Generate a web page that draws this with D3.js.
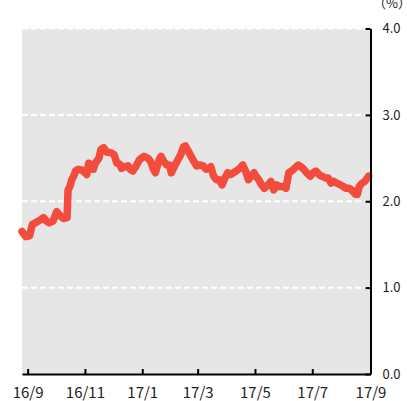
<!doctype html>
<html>
<head>
<meta charset="UTF-8">
<style>
  body { margin: 0; background: #fff; }
  svg text { font-family: "Noto Sans CJK JP", "Noto Sans", sans-serif; fill: #222; }
</style>
</head>
<body>
<svg id="chart" width="407" height="401"></svg>
<script src="https://d3js.org/d3.v7.min.js"></script>
<script>
// data
var dates = [
  "2016-08-26","2016-08-30","2016-09-03","2016-09-06","2016-09-09","2016-09-14","2016-09-18","2016-09-21",
  "2016-09-24","2016-09-28","2016-10-02","2016-10-05","2016-10-09","2016-10-13","2016-10-14","2016-10-16",
  "2016-10-18","2016-10-20","2016-10-22","2016-10-25","2016-10-29","2016-11-01","2016-11-03","2016-11-05",
  "2016-11-08","2016-11-10","2016-11-12","2016-11-16","2016-11-18","2016-11-21","2016-11-24","2016-11-29",
  "2016-12-02","2016-12-05","2016-12-08","2016-12-10","2016-12-13","2016-12-17","2016-12-19","2016-12-22",
  "2016-12-25","2016-12-29","2017-01-03","2017-01-07","2017-01-10","2017-01-13","2017-01-15","2017-01-19",
  "2017-01-21","2017-01-24","2017-01-27","2017-01-30","2017-02-01","2017-02-05","2017-02-08","2017-02-11",
  "2017-02-14","2017-02-16","2017-02-19","2017-02-22","2017-02-25","2017-02-28","2017-03-03","2017-03-07",
  "2017-03-10","2017-03-13","2017-03-15","2017-03-18","2017-03-21","2017-03-24","2017-03-27","2017-03-30",
  "2017-04-02","2017-04-05","2017-04-08","2017-04-11","2017-04-15","2017-04-18","2017-04-21","2017-04-24",
  "2017-04-27","2017-04-30","2017-05-02","2017-05-05","2017-05-08","2017-05-11","2017-05-15","2017-05-18",
  "2017-05-21","2017-05-24","2017-05-27","2017-05-31","2017-06-03","2017-06-06","2017-06-09","2017-06-12",
  "2017-06-16","2017-06-19","2017-06-22","2017-06-25","2017-06-29","2017-07-02","2017-07-05","2017-07-08",
  "2017-07-11","2017-07-15","2017-07-18","2017-07-21","2017-07-24","2017-07-27","2017-07-31","2017-08-03",
  "2017-08-06","2017-08-09","2017-08-12","2017-08-16","2017-08-18","2017-08-20","2017-08-23","2017-08-26",
  "2017-08-30"
];
var values = [
  1.65,1.59,1.60,1.73,1.75,1.78,1.81,1.77,
  1.75,1.77,1.88,1.84,1.80,1.81,2.13,2.17,
  2.25,2.29,2.35,2.37,2.36,2.33,2.31,2.44,
  2.42,2.37,2.44,2.50,2.60,2.62,2.57,2.56,
  2.54,2.44,2.43,2.38,2.40,2.41,2.37,2.35,
  2.40,2.48,2.52,2.50,2.46,2.37,2.33,2.48,
  2.52,2.46,2.42,2.42,2.33,2.42,2.48,2.54,
  2.63,2.64,2.58,2.52,2.46,2.41,2.42,2.41,
  2.37,2.38,2.40,2.29,2.25,2.25,2.19,2.27,
  2.33,2.31,2.33,2.35,2.38,2.42,2.35,2.25,
  2.29,2.33,2.29,2.25,2.19,2.15,2.19,2.23,
  2.13,2.19,2.17,2.17,2.15,2.33,2.35,2.38,
  2.42,2.40,2.37,2.33,2.29,2.33,2.35,2.31,
  2.29,2.27,2.27,2.21,2.23,2.21,2.19,2.17,
  2.15,2.15,2.13,2.08,2.08,2.17,2.21,2.23,
  2.29
];
var yTicks = [0, 1, 2, 3, 4];
var yLabels = ["0.0", "1.0", "2.0", "3.0", "4.0"];
var unitLabel = "（%）";

var parse = d3.timeParse("%Y-%m-%d");
var data = dates.map(function (d, i) { return { date: parse(d), value: values[i] }; });

var svg = d3.select("#chart");
var pLeft = 22, pRight = 370.5, pTop = 28.5, pBottom = 374;

var x = d3.scaleTime()
    .domain([parse("2016-08-26"), parse("2017-09-01")])
    .range([pLeft, pRight]);
var y = d3.scaleLinear().domain([0, 4]).range([pBottom, pTop]);

// plot background
svg.append("rect")
    .attr("x", pLeft).attr("y", pTop)
    .attr("width", pRight - pLeft).attr("height", pBottom - pTop)
    .attr("fill", "#e6e6e6");

// dashed grid
svg.append("g")
    .selectAll("line")
    .data(yTicks.filter(function (d) { return d > 0; }))
    .enter().append("line")
    .attr("x1", pLeft).attr("x2", pRight - 4)
    .attr("y1", function (d) { return y(d); })
    .attr("y2", function (d) { return y(d); })
    .attr("stroke", "#fff")
    .attr("stroke-width", 2)
    .attr("stroke-dasharray", "6,3");

// the line
svg.append("path")
    .datum(data)
    .attr("fill", "none")
    .attr("stroke", "#f34c3c")
    .attr("stroke-width", 7.5)
    .attr("stroke-linejoin", "round")
    .attr("stroke-linecap", "round")
    .attr("d", d3.line()
        .x(function (d) { return x(d.date); })
        .y(function (d) { return y(d.value); }));

// bottom axis
var xAxis = d3.axisBottom(x)
    .tickValues(d3.timeMonth.every(2).range(parse("2016-09-01"), parse("2017-09-02")))
    .tickFormat(d3.timeFormat("%y/%-m"))
    .tickSizeInner(-5).tickSizeOuter(0).tickPadding(13);
var gx = svg.append("g").attr("transform", "translate(0," + pBottom + ")").call(xAxis);
gx.select(".domain").attr("stroke", "#000").attr("stroke-width", 2);
gx.selectAll(".tick line").attr("stroke", "#000").attr("stroke-width", 2);
gx.selectAll(".tick text").attr("font-size", 15).attr("fill", "#333")
    .attr("font-family", "'Noto Sans CJK JP', sans-serif");

// right axis
var yAxis = d3.axisRight(y)
    .tickValues(yTicks)
    .tickFormat(function (d, i) { return yLabels[i]; })
    .tickSizeInner(-5).tickSizeOuter(0).tickPadding(12);
var gy = svg.append("g").attr("transform", "translate(" + pRight + ",0)").call(yAxis);
gy.select(".domain").attr("stroke", "#000").attr("stroke-width", 2);
gy.selectAll(".tick line").attr("stroke", "#000").attr("stroke-width", 2);
gy.selectAll(".tick text").attr("font-size", 13).attr("fill", "#333")
    .attr("font-family", "'Noto Sans CJK JP', sans-serif");

// unit
svg.append("text")
    .attr("x", 373).attr("y", 8)
    .attr("font-size", 13)
    .attr("fill", "#333")
    .text(unitLabel);
</script>
</body>
</html>
